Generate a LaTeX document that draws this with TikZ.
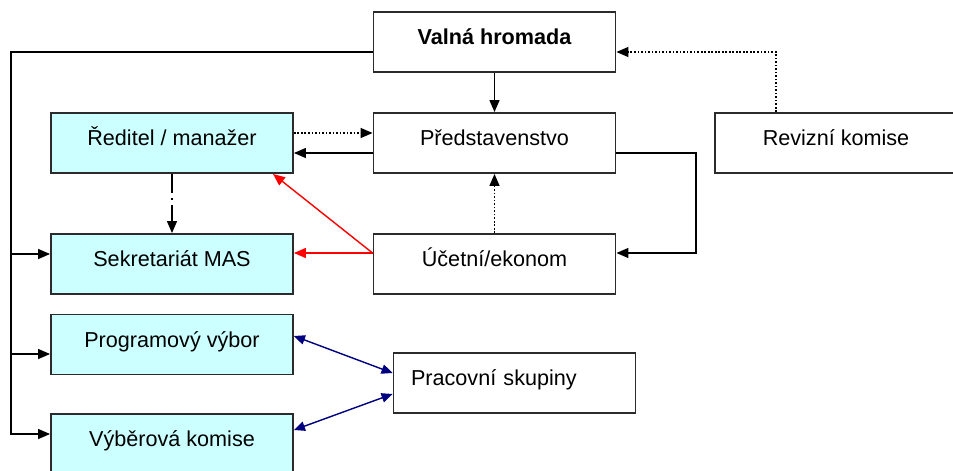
\documentclass[tikz,border=0pt]{standalone}
\usepackage{fontspec}
\setmainfont{Liberation Sans}
\usetikzlibrary{arrows.meta}
\definecolor{boxcyan}{HTML}{CCFFFF}
\definecolor{boxline}{HTML}{2B2B2B}
\definecolor{linkblue}{HTML}{000080}
\tikzset{
	orgbox/.style={draw=boxline, line width=1.1pt, minimum width=4.84cm, minimum height=1.2cm, inner sep=0pt, text height=0.45cm, text depth=0.34cm, font=\fontsize{12.3}{14}\selectfont},
	staffbox/.style={orgbox, fill=boxcyan},
	link/.style={line width=0.8pt, draw=black, -{Triangle[length=0.24cm,width=0.2cm]}},
	dotlink/.style={link, dash pattern=on 1pt off 1pt},
}
\begin{document}
\begin{tikzpicture}[x=0.02cm,y=-0.02cm]
		\useasboundingbox (0,0) rectangle (953,470);

		\node [orgbox, font=\fontsize{12.3}{14}\selectfont\bfseries] (valna) at (494.5,42) {Valná hromada};
		\node [staffbox] (reditel) at (172,143) {Ředitel / manažer};
		\node [orgbox] (predst) at (494.5,143) {Představenstvo};
		\node [orgbox] (revizni) at (836,143) {Revizní komise};
		\node [staffbox] (sekret) at (172,264) {Sekretariát MAS};
		\node [orgbox] (ucetni) at (494.5,264) {Účetní/ekonom};
		\node [staffbox] (program) at (172,344.5) {Programový výbor};
		\node [orgbox, text width=4.14cm, inner xsep=0.34cm, align=left] (pracovni) at (514.5,383) {Pracovní skupiny};
		\node [staffbox] (vyber) at (172,444) {Výběrová komise};

		\coordinate (bus_top) at (11,52);
		\coordinate (bus_s) at (11,254);
		\coordinate (bus_p) at (11,354);
		\coordinate (bus_v) at (11,434);
		\coordinate (rp_top) at (0,133);
		\coordinate (rp_bot) at (0,153);
		\coordinate (pu_top) at (696,153);
		\coordinate (pu_bot) at (696,253);
		\coordinate (rk_turn) at (776,52);
		\coordinate (red_x) at (273,0);
		\coordinate (pv_a) at (0,336);
		\coordinate (pv_b) at (0,373);
		\coordinate (vk_a) at (0,430);
		\coordinate (vk_b) at (0,394);

		\draw [link] (valna.west |- bus_top) -- (bus_top) -- (bus_v) -- (vyber.west |- bus_v);
		\draw [link] (bus_s) -- (sekret.west |- bus_s);
		\draw [link] (bus_p) -- (program.west |- bus_p);

		\draw [link] (valna.south) -- (predst.north);
		\draw [dotlink] (revizni.north -| rk_turn) -- (rk_turn) -- (valna.east |- rk_turn);
		\draw [dotlink] (reditel.east |- rp_top) -- (predst.west |- rp_top);
		\draw [link] (predst.west |- rp_bot) -- (reditel.east |- rp_bot);
		\draw [link, dash pattern=on 0.38cm off 0.1cm on 0.05cm off 0.1cm] (reditel.south) -- (sekret.north);
		\draw [link] (predst.east |- rp_bot) -- (pu_top) -- (pu_bot) -- (ucetni.east |- pu_bot);
		\draw [dotlink] (ucetni.north) -- (predst.south);

		\draw [link, draw=red, fill=red] (ucetni.west |- pu_bot) -- (reditel.south -| red_x);
		\draw [link, draw=red, fill=red] (ucetni.west |- pu_bot) -- (sekret.east |- pu_bot);

		\draw [link, draw=linkblue, fill=linkblue, {Triangle[length=0.22cm,width=0.19cm]}-{Triangle[length=0.22cm,width=0.19cm]}] (program.east |- pv_a) -- (pracovni.west |- pv_b);
		\draw [link, draw=linkblue, fill=linkblue, {Triangle[length=0.22cm,width=0.19cm]}-{Triangle[length=0.22cm,width=0.19cm]}] (vyber.east |- vk_a) -- (pracovni.west |- vk_b);

	\end{tikzpicture}
\end{document}
